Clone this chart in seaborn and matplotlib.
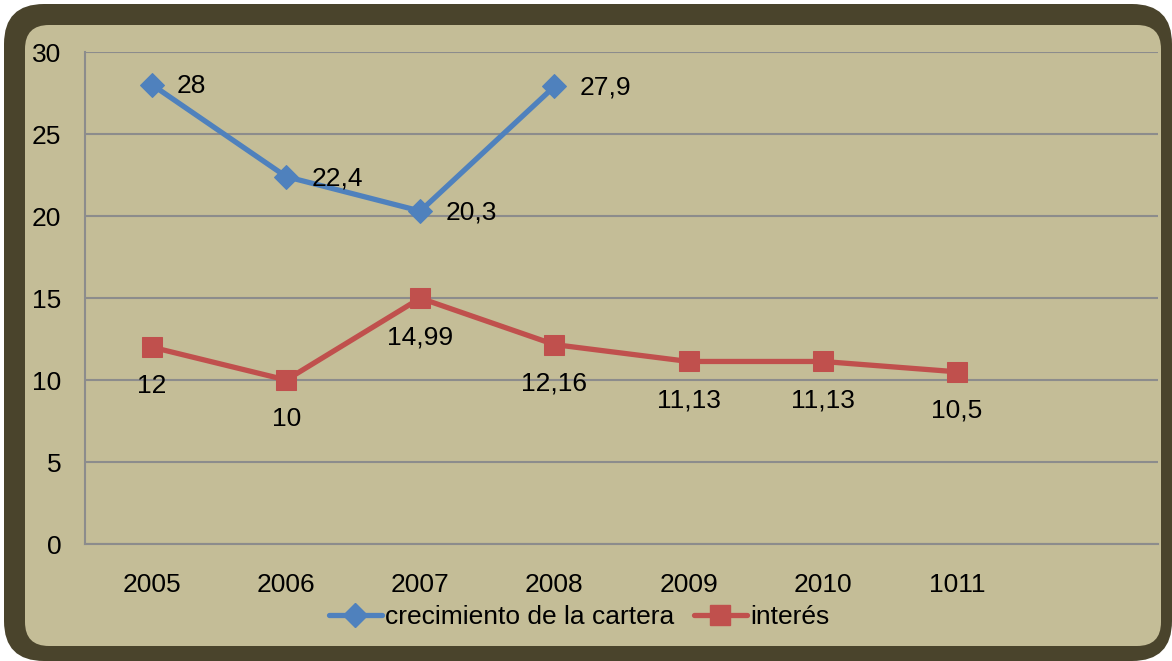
import numpy as np
import pandas as pd
import seaborn as sns
import matplotlib.pyplot as plt
from matplotlib.patches import FancyBboxPatch
from matplotlib.lines import Line2D

# datos
anios = ["2005", "2006", "2007", "2008", "2009", "2010", "1011", ""]
crecimiento = [28, 22.4, 20.3, 27.9]
interes = [12, 10, 14.99, 12.16, 11.13, 11.13, 10.5]
etiquetas_crec = ["28", "22,4", "20,3", "27,9"]
etiquetas_int = ["12", "10", "14,99", "12,16", "11,13", "11,13", "10,5"]

azul = "#4F81BD"
rojo = "#C0504D"
fondo = "#C4BD97"
marco = "#4A442C"
gris = "#8C8C8C"

sns.set_theme(style="white")
plt.rcParams["font.family"] = ["Liberation Sans", "DejaVu Sans"]
plt.rcParams["text.color"] = "black"
plt.rcParams["xtick.labelcolor"] = "black"
plt.rcParams["ytick.labelcolor"] = "black"
fs = 19

W, H = 1172, 661
fig = plt.figure(figsize=(W / 100, H / 100), dpi=100)
fig.patch.set_facecolor("white")

# marco redondeado (coordenadas en pixeles)
bg = fig.add_axes([0, 0, 1, 1], zorder=0)
bg.set_xlim(0, W)
bg.set_ylim(H, 0)
bg.axis("off")
bg.add_patch(FancyBboxPatch((4 + 40, 4 + 40), W - 4 - 80, H - 4 - 80,
                            boxstyle="round,pad=40", fc=marco, ec="none"))
bg.add_patch(FancyBboxPatch((25 + 24, 25 + 24), 1161 - 25 - 48, 646 - 25 - 48,
                            boxstyle="round,pad=24", fc=fondo, ec="none"))

ax = fig.add_axes([85 / W, 1 - 544 / H, (1158 - 85) / W, (544 - 52) / H], zorder=1)
ax.set_facecolor("none")

df_c = pd.DataFrame({"x": np.arange(len(crecimiento)), "y": crecimiento})
df_i = pd.DataFrame({"x": np.arange(len(interes)), "y": interes})

sns.lineplot(data=df_c, x="x", y="y", ax=ax, color=azul, lw=3.8,
             marker="D", markersize=12, markeredgecolor=azul, zorder=3)
sns.lineplot(data=df_i, x="x", y="y", ax=ax, color=rojo, lw=3.8,
             marker="s", markersize=14, markeredgecolor=rojo, zorder=3)

for i, (v, t) in enumerate(zip(crecimiento, etiquetas_crec)):
    ax.annotate(t, (i, v), xytext=(18, -1), textcoords="offset points",
                ha="left", va="center", fontsize=fs, color="black", zorder=4)
for i, (v, t) in enumerate(zip(interes, etiquetas_int)):
    ax.annotate(t, (i, v), xytext=(0, -28), textcoords="offset points",
                ha="center", va="center", fontsize=fs, color="black", zorder=4)

ax.set_xlim(-0.5, len(anios) - 0.5)
ax.set_ylim(0, 30)
ax.set_yticks(range(0, 31, 5))
ax.set_xticks(range(len(anios)))
ax.set_xticklabels(anios)
ax.set_xticks(np.arange(-0.5, len(anios), 1), minor=True)
ax.tick_params(axis="x", which="major", length=0, pad=21, labelsize=fs, labelcolor="black")
ax.tick_params(axis="x", which="minor", length=5, width=1.5, color=gris, direction="out")
ax.tick_params(axis="y", length=5, width=1.5, color=gris, direction="out", pad=12,
               labelsize=fs, labelcolor="black")
ax.grid(axis="y", color=gris, lw=1.5)
ax.set_axisbelow(True)
for s in ["top", "right"]:
    ax.spines[s].set_visible(False)
for s in ["left", "bottom"]:
    ax.spines[s].set_color(gris)
    ax.spines[s].set_linewidth(1.5)
ax.set_xlabel("")
ax.set_ylabel("")

handles = [
    Line2D([], [], color=azul, lw=3.8, marker="D", markersize=12),
    Line2D([], [], color=rojo, lw=3.8, marker="s", markersize=14),
]
fig.legend(handles, ["crecimiento de la cartera", "interés"], loc="center",
           bbox_to_anchor=(579 / W, 1 - 617 / H), ncol=2, frameon=False,
           fontsize=fs, handlelength=2.0, handletextpad=0.12, columnspacing=0.75,
           labelcolor="black")

fig.savefig("out.png", dpi=100, facecolor="white")
